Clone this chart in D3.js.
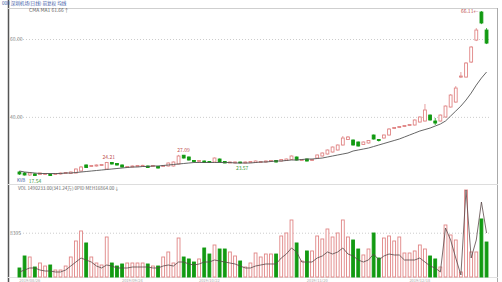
<!DOCTYPE html>
<html><head><meta charset="utf-8">
<script src="https://cdn.jsdelivr.net/npm/d3@7"></script>
<style>html,body{margin:0;padding:0;background:#fff;overflow:hidden}svg{display:block}</style>
</head><body><svg id="c" width="502" height="282"></svg>
<script>
const open = [19.59,19.09,18.07,18.59,18.33,18.33,18.59,18.33,18.59,18.84,
18.84,19.09,20.08,22.87,22.19,22.42,22.64,21.03,23.95,23.52,
22.87,21.73,21.96,22.19,22.30,22.42,22.19,22.19,22.19,22.42,
22.42,23.31,26.95,26.24,24.80,24.38,24.59,24.38,24.17,25.42,
24.38,23.74,23.80,24.15,23.74,23.95,23.95,23.95,24.17,24.38,
24.80,24.59,24.80,25.21,26.24,24.80,25.42,24.80,25.83,26.64,
27.43,28.20,28.96,30.80,32.73,32.56,31.87,30.98,31.52,34.26,
32.73,33.25,34.26,36.38,36.70,37.02,37.34,37.50,38.43,38.74,
40.54,38.74,38.74,39.96,42.88,44.28,50.92,50.92,54.63,59.76,
65.89,62.00];
const high = [20.08,19.59,19.59,19.09,19.34,19.09,18.84,19.09,19.34,19.59,
19.83,21.27,22.42,23.09,22.87,23.09,23.31,24.21,24.17,23.74,
23.09,22.42,22.64,22.87,22.95,22.64,22.87,22.42,22.87,23.95,
24.38,27.09,27.05,26.44,25.01,25.01,24.80,24.59,26.03,25.62,
24.59,24.38,24.38,24.30,24.38,24.59,24.80,24.59,24.80,25.01,
25.01,25.42,25.62,26.84,26.44,25.42,25.62,25.42,27.23,28.01,
29.14,30.25,30.98,33.93,33.93,32.73,32.04,32.04,32.56,34.42,
32.91,34.42,36.54,36.86,37.18,37.50,37.81,39.21,40.10,43.73,
40.69,39.66,40.69,43.30,46.47,48.60,52.18,54.63,58.40,62.44,
66.11,62.44];
const low = [18.07,17.80,17.54,17.65,18.07,18.07,17.65,18.07,18.33,18.59,
18.59,18.84,19.83,21.50,21.96,22.19,22.42,20.80,23.09,22.64,
21.73,21.50,21.73,21.96,22.05,21.50,21.96,21.27,21.96,22.19,
22.19,23.09,25.62,24.80,24.17,24.17,23.74,23.74,23.95,23.95,
23.65,23.65,23.66,23.57,23.62,23.74,23.74,23.74,23.95,24.17,
23.95,24.38,24.59,25.01,24.80,24.59,24.38,24.59,25.62,26.44,
27.23,28.01,28.77,30.62,32.56,30.62,30.25,30.80,31.34,32.73,
32.04,33.08,34.10,36.22,36.54,36.86,37.18,37.34,38.27,38.58,
38.90,37.50,38.58,39.81,42.74,44.14,50.67,50.80,54.39,59.53,
63.30,58.85];
const close = [18.59,18.07,19.09,17.80,19.09,18.84,17.80,18.84,19.09,19.34,
19.59,21.03,21.96,21.73,22.64,22.87,23.09,23.95,23.31,22.87,
21.96,22.19,22.42,22.64,22.70,21.73,22.64,21.50,22.64,23.74,
24.17,26.64,25.83,25.01,24.38,24.80,23.95,23.95,25.83,24.17,
23.74,24.17,24.17,23.80,24.17,24.38,24.59,24.38,24.59,24.80,
24.17,25.21,25.42,26.64,25.01,25.21,24.59,25.21,27.04,27.82,
28.96,30.07,30.80,33.25,33.59,30.80,30.44,31.87,32.39,32.91,
32.39,34.26,36.22,36.70,37.02,37.34,37.66,39.05,39.96,42.02,
39.05,38.12,40.54,43.16,46.21,48.08,51.17,54.39,58.17,62.00,
63.55,59.08];
const ma = [20.08,19.59,19.34,19.09,18.84,18.84,18.84,18.84,18.84,19.09,
19.09,19.34,19.59,19.83,20.08,20.32,20.56,20.80,21.03,21.27,
21.50,21.73,21.96,21.96,22.19,22.19,22.42,22.42,22.64,22.87,
23.09,23.31,23.52,23.74,23.95,23.95,23.95,23.95,23.95,23.95,
23.95,23.95,23.74,23.74,23.74,23.74,23.95,24.17,24.17,24.38,
24.59,24.59,24.80,25.01,25.01,25.21,25.42,25.42,25.62,25.83,
26.24,26.64,27.04,27.43,27.82,28.58,28.96,29.33,29.70,30.25,
30.80,31.34,31.87,32.39,32.91,33.59,34.26,34.92,35.58,36.06,
36.54,37.18,37.81,38.74,40.25,41.72,43.16,44.84,46.74,48.86,
50.67,52.18];
const volume = [1690,3940,3750,1875,2625,2060,2250,1310,1310,2060,
3750,6750,8630,6380,3750,2625,2250,7500,2625,2060,
2440,2625,2625,2625,2625,2440,2060,2060,3750,4690,
2625,7310,3750,3380,2810,3380,5440,4310,6000,5250,
5250,4690,3940,3000,1875,2625,4500,3750,4310,4310,
4310,7690,8250,10690,6380,3000,4880,4880,7690,7130,
9000,7500,8250,10690,7500,6940,5250,4130,5250,8250,
3560,7310,7690,6750,7500,4500,4500,4880,6000,5250,
3940,3380,1875,9750,7880,6940,940,16310,4690,4690,
10880,6560];
const volMa = [940,1310,1690,1690,1310,1125,1125,940,940,1310,
2060,2810,3560,3190,2810,2060,1690,2250,2060,1690,
1690,1690,1875,1875,1875,1875,1690,1690,2060,2250,
2060,2810,2810,2440,2250,2440,2810,2810,3190,3000,
2810,2625,2440,2060,1690,1690,2060,2250,2440,2440,
2440,3560,4310,5440,4690,2810,2810,2810,3560,3940,
4690,4310,4690,5440,4310,3940,3190,2810,3190,4310,
3190,3940,4310,4130,4130,3190,3190,3190,3560,2810,
2060,1690,940,9190,6940,3560,375,16310,3560,6940,
14060,8250];
const priceTicks = [60, 40];
const priceTickLabels = ["60.00", "40.00"];
const volTicks = [8305];
const volTickLabels = ["8305"];
const dateTickIdx = [2, 22, 37, 58, 78];
const dateTickLabels = ["2019/08/26", "2019/09/24", "2019/10/22", "2019/11/20", "2019/12/18"];
const markIdx = [2, 17, 31, 43, 90];
const markKind = ["low", "high", "high", "low", "max"];
const markText = ["17.54", "24.21", "27.09", "23.57", "66.11←"];

const UP = "#e08585", DOWN = "#129a12", MA_C = "#555", FONT = "'Noto Sans CJK SC','DejaVu Sans',sans-serif";
const N = close.length;
const svg = d3.select("#c");
svg.append("rect").attr("width",502).attr("height",282).attr("fill","#fff");

const x = d3.scaleBand().domain(d3.range(N)).range([17, 489]).paddingInner(0.25).paddingOuter(0.1);
const cx = i => x(i) + x.bandwidth()/2;
const y = d3.scalePow().exponent(1.7).domain([17.54, 66.11]).range([176, 11]);
const yv = d3.scaleLinear().domain([0, 16500]).range([277, 189]);

// frame
const frame = svg.append("g").attr("fill","none");
frame.append("line").attr("x1",8.5).attr("x2",8.5).attr("y1",0).attr("y2",282).attr("stroke","#555").attr("stroke-width",1.5);
frame.append("line").attr("x1",8).attr("x2",498).attr("y1",8.5).attr("y2",8.5).attr("stroke","#cfcfcf");
frame.append("line").attr("x1",497.5).attr("x2",497.5).attr("y1",8).attr("y2",282).attr("stroke","#aaa");
frame.append("line").attr("x1",8).attr("x2",498).attr("y1",184.5).attr("y2",184.5).attr("stroke","#ddd");
frame.append("line").attr("x1",8).attr("x2",498).attr("y1",277.5).attr("y2",277.5).attr("stroke","#e2e2e2");

// grid + tick labels via axes
const gy = svg.append("g").attr("transform","translate(17,0)")
  .call(d3.axisRight(y).tickValues(priceTicks).tickSize(472).tickFormat(""));
gy.select(".domain").remove();
gy.selectAll(".tick line").attr("stroke","#ccc").attr("stroke-dasharray","1,2");
svg.append("g").selectAll("text").data(priceTicks).join("text")
  .attr("x",10).attr("y",d=>y(d)+1.8).text((d,i)=>priceTickLabels[i])
  .attr("font-size",5).attr("fill","#888").attr("font-family",FONT);

const gv = svg.append("g").attr("transform","translate(17,0)")
  .call(d3.axisRight(yv).tickValues(volTicks).tickSize(472).tickFormat(""));
gv.select(".domain").remove();
gv.selectAll(".tick line").attr("stroke","#ccc").attr("stroke-dasharray","1,2");
svg.append("g").selectAll("text").data(volTicks).join("text")
  .attr("x",10).attr("y",d=>yv(d)+1.8).text((d,i)=>volTickLabels[i])
  .attr("font-size",5).attr("fill","#888").attr("font-family",FONT);

// date axis
const gx = svg.append("g").attr("transform","translate(0,277)")
  .call(d3.axisBottom(x).tickValues(dateTickIdx).tickSize(0).tickPadding(2).tickFormat((d)=>dateTickLabels[dateTickIdx.indexOf(d)]));
gx.select(".domain").remove();
gx.selectAll("text").attr("font-size",4).attr("fill","#aaa").attr("font-family",FONT);

// candles
const idx = d3.range(N);
const isUp = i => close[i] >= open[i];
const cg = svg.append("g");
cg.selectAll("line").data(idx).join("line")
  .attr("x1",cx).attr("x2",cx).attr("y1",i=>y(high[i])).attr("y2",i=>y(low[i]))
  .attr("stroke",i=>isUp(i)?UP:DOWN).attr("stroke-width",0.8);
cg.selectAll("rect").data(idx).join("rect")
  .attr("x",i=>x(i)+0.5).attr("width",x.bandwidth()-1)
  .attr("y",i=>y(Math.max(open[i],close[i])))
  .attr("height",i=>Math.max(0.8, y(Math.min(open[i],close[i]))-y(Math.max(open[i],close[i]))))
  .attr("fill",i=>isUp(i)?"#fff":DOWN)
  .attr("stroke",i=>isUp(i)?UP:DOWN).attr("stroke-width",0.9);

// MA line
svg.append("path").datum(idx)
  .attr("d", d3.line().x(cx).y(i=>y(ma[i])))
  .attr("fill","none").attr("stroke",MA_C).attr("stroke-width",0.9);

// volume bars
const vg = svg.append("g");
vg.selectAll("rect").data(idx).join("rect")
  .attr("x",i=>x(i)+0.5).attr("width",x.bandwidth()-1)
  .attr("y",i=>yv(volume[i])).attr("height",i=>yv(0)-yv(volume[i]))
  .attr("fill",i=>isUp(i)?"#fff":DOWN)
  .attr("stroke",i=>isUp(i)?UP:DOWN).attr("stroke-width",0.9);
svg.append("path").datum(idx)
  .attr("d", d3.line().x(cx).y(i=>yv(volMa[i])))
  .attr("fill","none").attr("stroke","#5a4848").attr("stroke-width",0.8);

// high/low marks
svg.append("g").selectAll("text").data(markIdx).join("text")
  .attr("x",(d,k)=> markKind[k]==="max" ? cx(d)-3 : (k===0 ? cx(d)-1 : (k===2 ? cx(d)+5 : cx(d)+2)))
  .attr("y",(d,k)=> markKind[k]==="low" ? y(low[d])+6.5 : (markKind[k]==="max" ? y(high[d])+2 : y(high[d])-2.5))
  .attr("text-anchor",(d,k)=> markKind[k]==="max" ? "end" : (k===0 ? "start" : "middle"))
  .text((d,k)=>markText[k])
  .attr("fill",(d,k)=> markKind[k]==="low" ? "#3a9a3a" : "#c05050")
  .attr("font-size",5).attr("font-family",FONT);

// headers
const hdr = svg.append("g").attr("font-family",FONT).attr("font-size",4.6);
hdr.append("text").attr("x",2).attr("y",5).attr("fill","#3b5aa6").text("000 深圳机场(日线) 前复权 均线");
hdr.append("text").attr("x",29).attr("y",11.5).attr("fill","#666").attr("font-size",5).text("CMA   MA1   61.66↑");
hdr.append("text").attr("x",17).attr("y",182).attr("fill","#3b5aa6").attr("font-size",4.4).text("KVB");
hdr.append("text").attr("x",18).attr("y",190).attr("fill","#666").attr("font-size",4.6).text("VOL  1490233.00(341.24万)   0PID   MEH16864.00↓");
</script></body></html>
